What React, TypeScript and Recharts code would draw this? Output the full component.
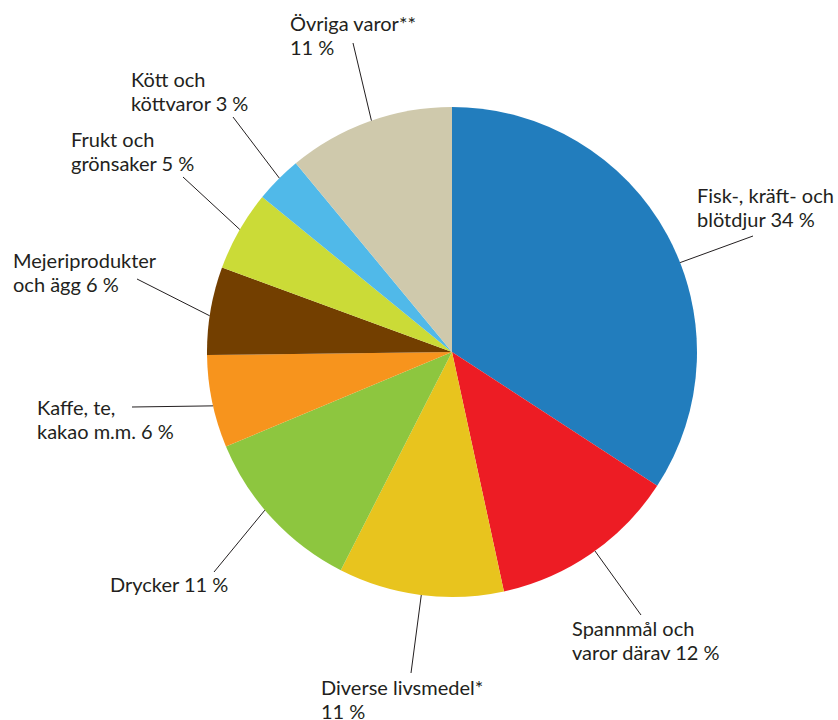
import { PieChart, Pie, Cell } from "recharts";

// Slices in clockwise order from 12 o'clock
const categories = [
  "Fisk-, kräft- och blötdjur",
  "Spannmål och varor därav",
  "Diverse livsmedel*",
  "Drycker",
  "Kaffe, te, kakao m.m.",
  "Mejeriprodukter och ägg",
  "Frukt och grönsaker",
  "Kött och köttvaror",
  "Övriga varor**",
];
const shares = [34.2, 12.4, 10.9, 11.2, 6.1, 5.8, 5.3, 3.1, 11.0];
const labelLines = [
  ["Fisk-, kräft- och", "blötdjur 34 %"],
  ["Spannmål och", "varor därav 12 %"],
  ["Diverse livsmedel*", "11 %"],
  ["Drycker 11 %"],
  ["Kaffe, te,", "kakao m.m. 6 %"],
  ["Mejeriprodukter", "och ägg 6 %"],
  ["Frukt och", "grönsaker 5 %"],
  ["Kött och", "köttvaror 3 %"],
  ["Övriga varor**", "11 %"],
];
const colors = [
  "#227dbd",
  "#ed1c24",
  "#e8c41e",
  "#8dc63f",
  "#f7941d",
  "#733f00",
  "#cbdb37",
  "#50b9e9",
  "#cfc9ac",
];

// where each leader line leaves the pie (deg clockwise from top), its far end, and the text block
const labelLayout = [
  { angle: 68.6, end: [753, 236], text: [697, 203] },
  { angle: 144.3, end: [641, 615], text: [572, 636] },
  { angle: 187.2, end: [411, 673], text: [321, 695] },
  { angle: 229.8, end: [214, 572], text: [110, 592] },
  { angle: 257.3, end: [132, 407], text: [37, 415] },
  { angle: 278.5, end: [137, 279], text: [13, 268] },
  { angle: 300, end: [183, 177], text: [71, 147] },
  { angle: 315.2, end: [233, 117], text: [131, 87] },
  { angle: 340.8, end: [353, 43], text: [290, 31] },
];

const data = categories.map((name, i) => ({ name, value: shares[i] }));

const FONT = "Lato, 'Open Sans', sans-serif";

function renderLabel(props: any) {
  const { cx, cy, outerRadius, index } = props;
  const lay = labelLayout[index];
  const a = (lay.angle * Math.PI) / 180;
  const sx = cx + outerRadius * Math.sin(a);
  const sy = cy - outerRadius * Math.cos(a);
  return (
    <g key={`lbl-${index}`}>
      <line x1={sx} y1={sy} x2={lay.end[0]} y2={lay.end[1]} stroke="#231f20" strokeWidth={1} />
      <text
        x={lay.text[0]}
        y={lay.text[1]}
        fill="#231f20"
        fontSize={20}
        fontFamily={FONT}
        textAnchor="start"
      >
        {labelLines[index].map((ln, j) => (
          <tspan key={j} x={lay.text[0]} dy={j === 0 ? 0 : 24}>
            {ln}
          </tspan>
        ))}
      </text>
    </g>
  );
}

export default function App() {
  return (
    <div style={{ position: "absolute", left: 0, top: 0, width: 838, height: 720, background: "#fff" }}>
      <PieChart width={838} height={720} margin={{ top: 0, right: 0, bottom: 0, left: 0 }}>
        <Pie
          data={data}
          dataKey="value"
          nameKey="name"
          cx={452}
          cy={352}
          outerRadius={245}
          startAngle={90}
          endAngle={-270}
          stroke="none"
          label={renderLabel}
          labelLine={false}
          isAnimationActive={false}
        >
          {data.map((d, i) => (
            <Cell key={d.name} fill={colors[i]} />
          ))}
        </Pie>
      </PieChart>
    </div>
  );
}
